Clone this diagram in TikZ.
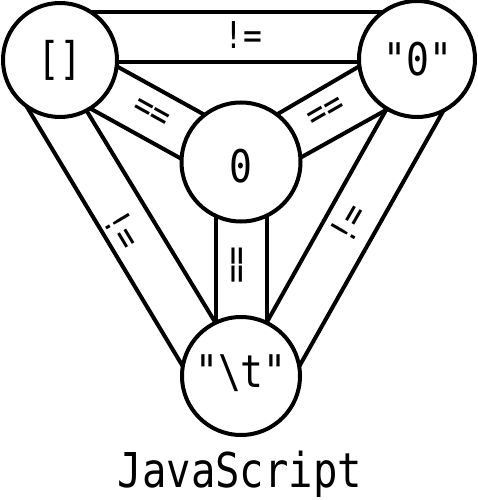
\documentclass[tikz,border=0pt]{standalone}
\usepackage{fontspec}
\setmonofont{DejaVu Sans Mono}
\usetikzlibrary{calc}
\pgfdeclarelayer{bg}
\pgfsetlayers{bg,main}
\newcommand{\cond}[1]{\scalebox{0.845}[1]{#1}}
\begin{document}
\begin{tikzpicture}[x=1pt,y=-1pt,
  ball/.style={circle,draw,line width=4pt,fill=white,inner sep=0pt},
  band/.style={line width=4pt},
  big/.style={font=\ttfamily\fontsize{45}{54}\selectfont,inner sep=0pt,anchor=base},
  lbl/.style={font=\ttfamily\fontsize{37}{44}\selectfont,inner sep=0pt},
  title/.style={font=\ttfamily\fontsize{48}{58}\selectfont,inner sep=0pt,anchor=base}]
\useasboundingbox (0,0) rectangle (478,500);
% circles
\node[ball,minimum size=114pt] (A) at (60,60) {};
\node[ball,minimum size=116pt] (B) at (417,59) {};
\node[ball,minimum size=119pt] (C) at (241,162) {};
\node[ball,minimum size=118pt] (D) at (241,376) {};
% bands
\begin{pgfonlayer}{bg}
\draw[band] ($(A)+(10,-48)$) -- ($(B)+(-7,-47)$);
\draw[band] ($(A)+(10,2)$) -- ($(B)+(-7,3)$);
\draw[band] ($(A)+(40.5,-2.7)$) -- ($(C)+(-18.5,-37.3)$);
\draw[band] ($(A)+(15.5,40.3)$) -- ($(C)+(-43.5,5.7)$);
\draw[band] ($(C)+(17.7,-36.9)$) -- ($(B)+(-41.7,-2.1)$);
\draw[band] ($(C)+(41.5,5.7)$) -- ($(B)+(-13.5,41.3)$);
\draw[band] ($(A)+(-42.9,30.6)$) -- ($(D)+(-48.7,6.1)$);
\draw[band] ($(A)+(17.6,35.9)$) -- ($(D)+(-15.6,-36.9)$);
\draw[band] ($(C)+(-25,8)$) -- ($(D)+(-25,-6)$);
\draw[band] ($(C)+(26,8)$) -- ($(D)+(26,-6)$);
\draw[band] ($(B)+(-21.2,33.6)$) -- ($(D)+(16.2,-36.6)$);
\draw[band] ($(B)+(33.8,38.6)$) -- ($(D)+(49.2,6.4)$);
\end{pgfonlayer}
% circle texts
\node[big] (tA) at (60,75) {\cond{[]}};
\node[big] (tB) at (418,76) {\cond{"0"}};
\node[big] (tC) at (241,182) {\cond{0}};
\node[big] (tD) at (241,387) {\cond{"\textbackslash t"}};
% edge labels
\node[lbl,anchor=base] (eAB) at (243,49) {\cond{!=}};
\node[lbl,rotate=-29] (eAC) at (151,114) {\cond{==}};
\node[lbl,rotate=30] (eCB) at (327,113) {\cond{==}};
\node[lbl,rotate=-59] (eAD) at (123,230) {\cond{!=}};
\node[lbl,rotate=60] (eBD) at (348,223) {\cond{!=}};
\node[lbl,rotate=90] (eCD) at (240,265) {\cond{==}};
% title
\node[title] (js) at (240,487) {\cond{JavaScript}};
\end{tikzpicture}
\end{document}
